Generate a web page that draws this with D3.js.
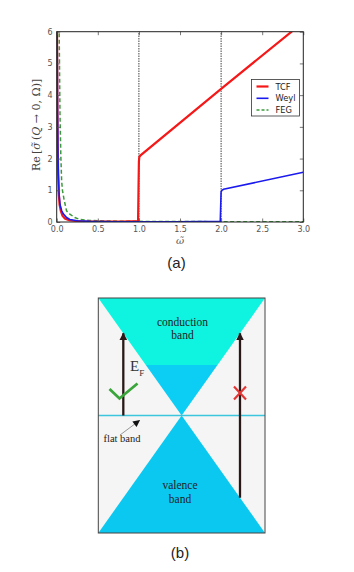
<!DOCTYPE html>
<html>
<head>
<meta charset="utf-8">
<script src="https://cdn.jsdelivr.net/npm/d3@7"></script>
<style>
  body { margin: 0; background: #fff; }
  svg { display: block; }
</style>
</head>
<body>
<script>
// ---- data ----
var xTicks = [0.0, 0.5, 1.0, 1.5, 2.0, 2.5, 3.0];
var yTicks = [0, 1, 2, 3, 4, 5, 6];
var thresholds = [1, 2];

var tcfW = [0.003, 0.008, 0.012, 0.018, 0.025, 0.035, 0.05, 0.07, 0.1, 0.15, 0.2, 0.3, 0.5, 0.8, 0.99, 0.995, 1.0, 1.005, 1.02, 2.0, 3.0];
var tcfV = [6.5, 4.0, 2.5, 1.5, 0.9, 0.55, 0.35, 0.2, 0.11, 0.06, 0.04, 0.02, 0.01, 0.015, 0.03, 1.0, 1.9, 2.05, 2.1, 4.2, 6.3];

var weylW = [0.005, 0.01, 0.015, 0.02, 0.03, 0.04, 0.06, 0.08, 0.12, 0.16, 0.25, 0.4, 0.7, 1.0, 1.5, 1.99, 1.995, 2.0, 2.01, 2.03, 3.0];
var weylV = [6.5, 3.5, 2.2, 1.5, 0.85, 0.55, 0.36, 0.26, 0.14, 0.08, 0.04, 0.02, 0.01, 0.01, 0.01, 0.02, 0.5, 0.95, 1.0, 1.03, 1.57];

var fegW = [0.022, 0.03, 0.04, 0.05, 0.06, 0.07, 0.09, 0.12, 0.16, 0.22, 0.28, 0.4, 0.6, 1.0, 2.0, 3.0];
var fegV = [8.0, 6.0, 3.4, 2.1, 1.3, 1.0, 0.7, 0.35, 0.25, 0.14, 0.08, 0.05, 0.03, 0.02, 0.01, 0.01];

var seriesNames = ["TCF", "Weyl", "FEG"];
var seriesColors = ["#f51818", "#1a1af0", "#3a9a3a"];

// panel (b): band diagram in (k, E) units, both from -1 to 1
var coneK = [-1, 0, 1];
var fermiE = 0.43;
var arrowK = [-0.7, 0.7];
var arrowFrom = [0, -0.7];
var arrowTo = [0.7, 0.7];

var width = 354, height = 572;

var svg = d3.select("body").append("svg")
    .attr("width", width)
    .attr("height", height);

var defs = svg.append("defs");

// ================= panel (a) =================
var x = d3.scaleLinear().domain([0, 3]).range([56.7, 303.3]);
var y = d3.scaleLinear().domain([0, 6]).range([222, 31.7]);

defs.append("clipPath").attr("id", "plotclip")
  .append("rect")
    .attr("x", x(0)).attr("y", y(6))
    .attr("width", x(3) - x(0)).attr("height", y(0) - y(6));

var gA = svg.append("g");

// threshold lines
gA.selectAll(".thr")
    .data(thresholds)
    .enter().append("line")
    .attr("x1", function(d) { return x(d); })
    .attr("x2", function(d) { return x(d); })
    .attr("y1", y(0)).attr("y2", y(6))
    .style("stroke", "#444")
    .style("stroke-width", 1)
    .style("stroke-dasharray", "1.5,1");

var line = d3.line()
    .x(function(d) { return x(d[0]); })
    .y(function(d) { return y(d[1]); });

var curves = [
    d3.zip(tcfW, tcfV),
    d3.zip(weylW, weylV),
    d3.zip(fegW, fegV)
];
var widths = [2.2, 1.6, 1.5];
var dashes = [null, null, "4,2.5"];

var curveG = gA.append("g").attr("clip-path", "url(#plotclip)");
// draw FEG first, then TCF, then Weyl on top of red at the spike
[2, 0, 1].forEach(function(i) {
    curveG.append("path")
        .datum(curves[i])
        .attr("d", line)
        .style("fill", "none")
        .style("stroke", seriesColors[i])
        .style("stroke-width", widths[i])
        .style("stroke-dasharray", dashes[i]);
});

// axes, matplotlib style: ticks inside on all four sides
var tickFont = "DejaVu Sans, sans-serif";
var xAxis = d3.axisBottom(x).tickValues(xTicks).tickSize(-3.5).tickPadding(4)
    .tickFormat(d3.format(".1f"));
var xTop = d3.axisTop(x).tickValues(xTicks).tickSize(-3.5).tickFormat("");
var yAxis = d3.axisLeft(y).tickValues(yTicks).tickSize(-3.5).tickPadding(4)
    .tickFormat(d3.format("d"));
var yRight = d3.axisRight(y).tickValues(yTicks).tickSize(-3.5).tickFormat("");

function styleAxis(g) {
    g.select(".domain").remove();
    g.selectAll(".tick line").style("stroke", "#555").style("stroke-width", 0.8);
    g.selectAll("text").style("font-family", tickFont).style("font-size", "8px").style("fill", "#555");
}

gA.append("g").attr("transform", "translate(0," + y(0) + ")").call(xAxis).call(styleAxis);
gA.append("g").attr("transform", "translate(0," + y(6) + ")").call(xTop).call(styleAxis);
gA.append("g").attr("transform", "translate(" + x(0) + ",0)").call(yAxis).call(styleAxis);
gA.append("g").attr("transform", "translate(" + x(3) + ",0)").call(yRight).call(styleAxis);

// frame
gA.append("rect")
    .attr("x", x(0)).attr("y", y(6))
    .attr("width", x(3) - x(0)).attr("height", y(0) - y(6))
    .style("fill", "none")
    .style("stroke", "#222")
    .style("stroke-width", 1);

// legend
var leg = gA.append("g").attr("transform", "translate(251.5,79.5)");
leg.append("rect")
    .attr("width", 48).attr("height", 36.5)
    .style("fill", "#fff")
    .style("stroke", "#333")
    .style("stroke-width", 0.8);
seriesNames.forEach(function(name, i) {
    var yy = 7 + i * 11.8;
    leg.append("line")
        .attr("x1", 5).attr("x2", 17)
        .attr("y1", yy).attr("y2", yy)
        .style("stroke", seriesColors[i])
        .style("stroke-width", widths[i])
        .style("stroke-dasharray", dashes[i] ? "3,2" : null);
    leg.append("text")
        .attr("x", 24).attr("y", yy + 3)
        .style("font-family", tickFont)
        .style("font-size", "8.3px")
        .style("fill", "#222")
        .text(name);
});

// axis labels
var ylab = gA.append("text")
    .attr("transform", "translate(40," + ((y(0) + y(6)) / 2 - 2) + ") rotate(-90)")
    .attr("text-anchor", "middle")
    .style("font-family", "DejaVu Serif, Liberation Serif, serif")
    .style("font-size", "11px")
    .style("fill", "#444");
ylab.append("tspan").text("Re\u2009[");
ylab.append("tspan").style("font-style", "italic").text("\u03C3\u0303");
ylab.append("tspan").text("\u2009(");
ylab.append("tspan").style("font-style", "italic").text("Q");
ylab.append("tspan").text(" \u2192 0, \u03A9)]");

gA.append("text")
    .attr("x", x(1.5)).attr("y", 244)
    .attr("text-anchor", "middle")
    .style("font-family", "DejaVu Serif, serif")
    .style("font-style", "italic")
    .style("font-size", "10px")
    .style("fill", "#555")
    .text("\u03C9\u0303");

svg.append("text")
    .attr("x", 176.5).attr("y", 268)
    .attr("text-anchor", "middle")
    .style("font-family", "Liberation Sans, Arial, sans-serif")
    .style("font-size", "15px")
    .style("fill", "#222")
    .text("(a)");

// ================= panel (b) =================
var k = d3.scaleLinear().domain([-1, 1]).range([98.3, 265]);
var e = d3.scaleLinear().domain([-1, 1]).range([533, 298]);

var gB = svg.append("g");

gB.append("rect")
    .attr("x", k(-1)).attr("y", e(1))
    .attr("width", k(1) - k(-1)).attr("height", e(-1) - e(1))
    .style("fill", "#f5f5f5");

var poly = d3.line()
    .x(function(d) { return k(d[0]); })
    .y(function(d) { return e(d[1]); });

// conduction band (upper cone), part above Fermi level
gB.append("path")
    .datum([[coneK[0], 1], [coneK[2], 1], [fermiE, fermiE], [-fermiE, fermiE]])
    .attr("d", function(d) { return poly(d) + "Z"; })
    .style("fill", "#0ef4e0");
// filled part of the upper cone, below Fermi level
gB.append("path")
    .datum([[-fermiE, fermiE], [fermiE, fermiE], [coneK[1], 0]])
    .attr("d", function(d) { return poly(d) + "Z"; })
    .style("fill", "#0ccdf4");
// valence band (lower cone)
gB.append("path")
    .datum([[coneK[1], 0], [coneK[2], -1], [coneK[0], -1]])
    .attr("d", function(d) { return poly(d) + "Z"; })
    .style("fill", "#0ac8f0");

// flat band
gB.append("line")
    .attr("x1", k(-1)).attr("x2", k(1))
    .attr("y1", e(0)).attr("y2", e(0))
    .style("stroke", "#3cc6de")
    .style("stroke-width", 1.6);

gB.append("rect")
    .attr("x", k(-1)).attr("y", e(1))
    .attr("width", k(1) - k(-1)).attr("height", e(-1) - e(1))
    .style("fill", "none")
    .style("stroke", "#444")
    .style("stroke-width", 1);

// transition arrows
defs.append("marker")
    .attr("id", "head")
    .attr("viewBox", "0 0 10 10")
    .attr("refX", 9).attr("refY", 5)
    .attr("markerWidth", 3.4).attr("markerHeight", 3.4)
    .attr("markerUnits", "strokeWidth")
    .attr("orient", "auto")
  .append("path")
    .attr("d", "M0,0L10,5L0,10Z")
    .style("fill", "#2a1818");

arrowK.forEach(function(kk, i) {
    gB.append("line")
        .attr("x1", k(kk)).attr("x2", k(kk))
        .attr("y1", e(arrowFrom[i])).attr("y2", e(arrowTo[i]))
        .style("stroke", "#2a1818")
        .style("stroke-width", 2.3)
        .attr("marker-end", "url(#head)");
});

// check mark and cross
gB.append("path")
    .attr("d", "M109.5,389L119.5,398.5L137.5,383.5")
    .style("fill", "none")
    .style("stroke", "#3aa53a")
    .style("stroke-width", 2.8);
var cx = k(arrowK[1]), cy = 393;
gB.append("path")
    .attr("d", "M" + (cx - 6) + "," + (cy - 6.5) + "L" + (cx + 6) + "," + (cy + 6.5) +
               "M" + (cx + 6) + "," + (cy - 6.5) + "L" + (cx - 6) + "," + (cy + 6.5))
    .style("stroke", "#e23636")
    .style("stroke-width", 2.2);

var serif = "Liberation Serif, Times New Roman, serif";

// E_F label
var ef = gB.append("text")
    .attr("x", 130).attr("y", 371)
    .style("font-family", serif)
    .style("font-size", "15px")
    .style("fill", "#333");
ef.append("tspan").text("E");
ef.append("tspan").attr("dy", 5).style("font-size", "9px").text("F");

// band labels
[["conduction", 325.5], ["band", 338.5]].forEach(function(t) {
    gB.append("text")
        .attr("x", 182.5).attr("y", t[1])
        .attr("text-anchor", "middle")
        .style("font-family", serif)
        .style("font-size", "11.5px")
        .style("fill", "#222")
        .text(t[0]);
});
[["valence", 489], ["band", 502.5]].forEach(function(t) {
    gB.append("text")
        .attr("x", 180).attr("y", t[1])
        .attr("text-anchor", "middle")
        .style("font-family", serif)
        .style("font-size", "11.5px")
        .style("fill", "#222")
        .text(t[0]);
});

// flat band label and pointer
defs.append("marker")
    .attr("id", "small")
    .attr("viewBox", "0 0 10 10")
    .attr("refX", 9).attr("refY", 5)
    .attr("markerWidth", 9).attr("markerHeight", 7)
    .attr("markerUnits", "userSpaceOnUse")
    .attr("orient", "auto")
  .append("path")
    .attr("d", "M0,0L10,5L0,10Z")
    .style("fill", "#111");
gB.append("line")
    .attr("x1", 120).attr("y1", 435)
    .attr("x2", 139.5).attr("y2", 420.5)
    .style("stroke", "#555")
    .style("stroke-width", 0.6)
    .attr("marker-end", "url(#small)");
gB.append("text")
    .attr("x", 103.5).attr("y", 441.5)
    .style("font-family", serif)
    .style("font-size", "10.5px")
    .style("fill", "#222")
    .text("flat band");

svg.append("text")
    .attr("x", 180).attr("y", 558)
    .attr("text-anchor", "middle")
    .style("font-family", "Liberation Sans, Arial, sans-serif")
    .style("font-size", "15px")
    .style("fill", "#222")
    .text("(b)");
</script>
</body>
</html>
